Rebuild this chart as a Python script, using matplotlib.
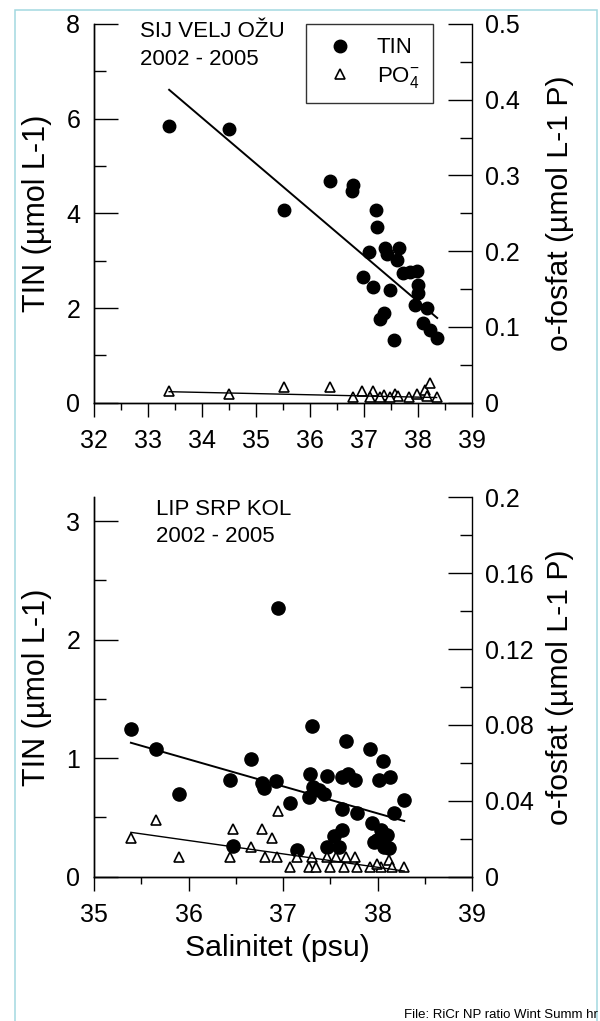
import numpy as np
import matplotlib
matplotlib.use("Agg")
import matplotlib.pyplot as plt
from matplotlib.patches import Rectangle
from matplotlib.ticker import MultipleLocator, FuncFormatter

plt.rcParams["font.family"] = ["Liberation Sans", "DejaVu Sans"]
plt.rcParams["mathtext.fontset"] = "custom"
plt.rcParams["mathtext.rm"] = "Liberation Sans"
plt.rcParams["mathtext.it"] = "Liberation Sans"

#%% data - top panel (SIJ VELJ OZU)
sal_tin_a = [33.39, 34.50, 35.52, 36.37, 36.80, 36.78, 37.22, 37.23, 37.09, 37.39,
             37.43, 37.64, 37.61, 36.97, 37.16, 37.47, 37.36, 37.30, 37.55, 37.72,
             37.85, 37.97, 38.00, 38.00, 37.94, 38.16, 38.09, 38.22, 38.34]
tin_a = [5.85, 5.79, 4.06, 4.68, 4.59, 4.47, 4.08, 3.71, 3.19, 3.26,
         3.15, 3.26, 3.01, 2.65, 2.44, 2.37, 1.89, 1.76, 1.32, 2.73,
         2.77, 2.79, 2.49, 2.31, 2.06, 1.99, 1.68, 1.54, 1.36]
sal_po4_a = [33.39, 34.50, 35.52, 36.37, 36.79, 36.95, 37.17, 37.10, 37.37, 37.57,
             37.63, 37.82, 37.97, 38.13, 38.22, 38.34, 38.16, 37.29, 37.48]
po4_a = [0.016, 0.011, 0.021, 0.021, 0.007, 0.016, 0.016, 0.008, 0.010, 0.011,
         0.009, 0.008, 0.011, 0.017, 0.026, 0.007, 0.009, 0.008, 0.008]
fit_tin_a_x = [33.39, 38.35]
fit_tin_a_y = [6.61, 1.79]
fit_po4_a_x = [33.39, 38.34]
fit_po4_a_y = [0.0145, 0.0068]

#%% data - bottom panel (LIP SRP KOL)
sal_tin_b = [35.39, 35.66, 35.90, 36.44, 36.66, 36.78, 36.80, 36.92, 37.07, 37.31,
             37.28, 37.32, 37.38, 37.27, 37.43, 37.46, 37.66, 37.62, 37.69, 37.76,
             37.62, 37.78, 37.92, 38.06, 38.01, 38.13, 38.28, 38.17, 37.94, 37.62,
             37.54, 37.46, 37.59, 37.96, 38.03, 38.10, 38.07, 38.12, 37.99, 36.47,
             37.15, 36.95]
tin_b = [1.25, 1.075, 0.70, 0.82, 0.99, 0.79, 0.75, 0.81, 0.62, 1.27,
         0.87, 0.76, 0.73, 0.675, 0.695, 0.85, 1.145, 0.845, 0.87, 0.82,
         0.57, 0.535, 1.075, 0.976, 0.82, 0.84, 0.65, 0.54, 0.45, 0.39,
         0.34, 0.25, 0.25, 0.295, 0.39, 0.35, 0.25, 0.24, 0.31, 0.26,
         0.225, 2.27]
sal_po4_b = [35.39, 35.66, 35.90, 36.47, 36.44, 36.66, 36.78, 36.88, 36.95, 36.81,
             36.93, 37.07, 37.15, 37.27, 37.31, 37.46, 37.56, 37.66, 37.76, 37.50,
             37.64, 37.78, 37.92, 38.03, 38.12, 38.15, 38.28, 37.35, 37.99]
po4_b = [0.0203, 0.0299, 0.0102, 0.025, 0.0102, 0.0155, 0.025, 0.0203, 0.0348, 0.0102,
         0.0102, 0.0053, 0.0105, 0.0053, 0.0105, 0.0105, 0.0105, 0.0105, 0.0105, 0.0053,
         0.0053, 0.0053, 0.0053, 0.0053, 0.0088, 0.0053, 0.0053, 0.0053, 0.0065]
fit_tin_b_x = [35.39, 38.28]
fit_tin_b_y = [1.13, 0.47]
fit_po4_b_x = [35.39, 38.28]
fit_po4_b_y = [0.0234, 0.0030]

#%% figure
fig = plt.figure(figsize=(6, 10.21), dpi=100)
fig.patches.append(Rectangle((14.7 / 600, -0.02), 582 / 600, 1 - 9.5 / 1021 + 0.02,
                             transform=fig.transFigure, fill=False,
                             ec="#a3d8e0", lw=1.1))

ax1 = fig.add_axes([0.1567, 0.6056, 0.6305, 0.3709])
ax2 = fig.add_axes([0.1567, 0.1413, 0.6305, 0.3716])


def fmt(v, pos):
    s = ("%.2f" % v).rstrip("0").rstrip(".")
    return s


def style(ax, axr, xlim, ylim, yrlim, xmaj, ymaj, yrmaj):
    ax.set_xlim(xlim)
    ax.set_ylim(ylim)
    axr.set_ylim(yrlim)
    for a in (ax, axr):
        a.spines["top"].set_visible(False)
        for s in a.spines.values():
            s.set_linewidth(1.0)
    ax.xaxis.set_major_locator(MultipleLocator(xmaj))
    ax.xaxis.set_minor_locator(MultipleLocator(xmaj / 2))
    ax.yaxis.set_major_locator(MultipleLocator(ymaj))
    ax.yaxis.set_minor_locator(MultipleLocator(ymaj / 2))
    axr.yaxis.set_major_locator(MultipleLocator(yrmaj))
    axr.yaxis.set_minor_locator(MultipleLocator(yrmaj / 2))
    axr.yaxis.set_major_formatter(FuncFormatter(fmt))
    ax.tick_params(axis="x", which="major", direction="out", length=10, width=1, pad=9, labelsize=18)
    ax.tick_params(axis="x", which="minor", direction="out", length=5, width=1)
    ax.tick_params(axis="y", which="major", direction="in", length=17.3, width=1, pad=10, labelsize=18)
    ax.tick_params(axis="y", which="minor", direction="in", length=8.6, width=1)
    axr.tick_params(axis="y", which="major", direction="in", length=17.3, width=1, pad=9, labelsize=18)
    axr.tick_params(axis="y", which="minor", direction="in", length=8.6, width=1)
    ax.spines["right"].set_visible(False)


ax1r = ax1.twinx()
ax1.plot(sal_tin_a, tin_a, ls="none", marker="o", ms=9, color="black", label="TIN")
ax1.plot(fit_tin_a_x, fit_tin_a_y, color="black", lw=1.4)
ax1r.plot(sal_po4_a, po4_a, ls="none", marker="^", ms=7, mfc="white", mec="black",
          mew=1.2, label="PO$_4^{-}$")
ax1r.plot(fit_po4_a_x, fit_po4_a_y, color="black", lw=1.0)
style(ax1, ax1r, (32, 39), (0, 8), (0, 0.5), 1, 2, 0.1)

ax2r = ax2.twinx()
ax2.plot(sal_tin_b, tin_b, ls="none", marker="o", ms=9.5, color="black")
ax2.plot(fit_tin_b_x, fit_tin_b_y, color="black", lw=1.4)
ax2r.plot(sal_po4_b, po4_b, ls="none", marker="^", ms=7, mfc="white", mec="black", mew=1.2)
ax2r.plot(fit_po4_b_x, fit_po4_b_y, color="black", lw=1.0)
style(ax2, ax2r, (35, 39), (0, 3.2), (0, 0.2), 1, 1, 0.04)

# legend (top panel)
h1, l1 = ax1.get_legend_handles_labels()
h2, l2 = ax1r.get_legend_handles_labels()
leg = ax1r.legend(h1 + h2, l1 + l2, loc="upper left", bbox_to_anchor=(0.56, 1.0),
                  fontsize=16, frameon=True, fancybox=False, borderpad=0.6,
                  labelspacing=0.3, handlelength=1.9, handletextpad=0.7,
                  borderaxespad=0)
leg.get_frame().set_edgecolor("black")
leg.get_frame().set_linewidth(1.0)

# labels
for ax in (ax1, ax2):
    ax.text(-0.152, 0.5, "TIN (µmol L-1)", transform=ax.transAxes, rotation=90,
            ha="center", va="center", fontsize=22)
    ax.text(1.232, 0.5, "o-fosfat (µmol L-1 P)", transform=ax.transAxes, rotation=90,
            ha="center", va="center", fontsize=21.7)

ax1.text(0.122, 0.979, "SIJ VELJ OŽU", transform=ax1.transAxes, fontsize=16, va="center")
ax1.text(0.122, 0.907, "2002 - 2005", transform=ax1.transAxes, fontsize=16, va="center")
ax2.text(0.164, 0.969, "LIP SRP KOL", transform=ax2.transAxes, fontsize=16, va="center")
ax2.text(0.164, 0.897, "2002 - 2005", transform=ax2.transAxes, fontsize=16, va="center")

ax2.text(0.485, -0.188, "Salinitet (psu)", transform=ax2.transAxes, ha="center",
         va="center", fontsize=21.8)

fig.text(404 / 600, 1 - 1015 / 1021, "File: RiCr NP ratio Wint Summ hr", fontsize=9.5,
         va="center", ha="left")

fig.savefig("out.png", dpi=100, facecolor="w")
